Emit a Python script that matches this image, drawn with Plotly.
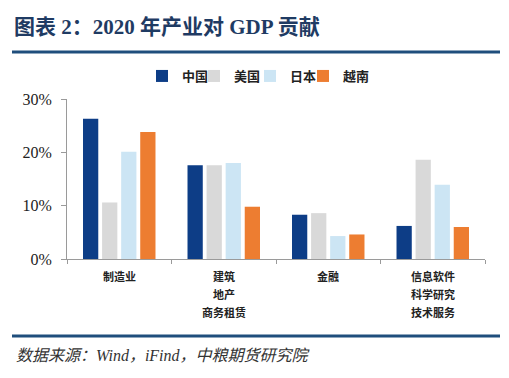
import plotly.graph_objects as go

categories = ["制造业", "建筑地产商务租赁", "金融", "信息软件科学研究技术服务"]
label_lines = [["制造业"], ["建筑", "地产", "商务租赁"], ["金融"], ["信息软件", "科学研究", "技术服务"]]
series_names = ["中国", "美国", "日本", "越南"]
china = [26.3, 17.6, 8.3, 6.2]
usa = [10.6, 17.6, 8.6, 18.6]
japan = [20.1, 18.0, 4.3, 13.9]
vietnam = [23.8, 9.8, 4.6, 6.0]
y_ticks = [0, 10, 20, 30]
y_tick_labels = ["0%", "10%", "20%", "30%"]

colors = ["#0d3d86", "#d9d9d9", "#cce5f4", "#ed7d31"]
values = [china, usa, japan, vietnam]

serif = "Liberation Serif, Noto Sans CJK SC, serif"

# page has an 8px body margin; work in screenshot coordinates and shift
OFF = 8
W, H = 509 - OFF, 378 - OFF
L, T = 67 - OFF, 99 - OFF
R, B = 509 - 485, 378 - 259
pw = W - L - R
ph = H - T - B


def px_x(x):
    return (x - OFF - L) / pw


def px_y(y):
    return (H - B - (y - OFF)) / ph


legend_keys = ["legend", "legend2", "legend3", "legend4"]
legend_x = [142, 194, 250, 303]

fig = go.Figure()
for name, vals, c, lk in zip(series_names, values, colors, legend_keys):
    fig.add_trace(go.Bar(x=categories, y=vals, name="<b>" + name + "</b>", legend=lk, showlegend=True,
                         marker=dict(color=c, line=dict(width=0))))

annotations = []
line_y = [276, 294, 312]
for cat, lines in zip(categories, label_lines):
    for i, t in enumerate(lines):
        annotations.append(dict(x=cat, xref="x", y=px_y(line_y[i]), yref="paper", text="<b>" + t + "</b>",
                                showarrow=False, xanchor="center", yanchor="middle",
                                font=dict(family=serif, size=11, color="#222")))
annotations.append(dict(x=px_x(14), xref="paper", y=px_y(355), yref="paper",
                        text="<i>数据来源：Wind，iFind，中粮期货研究院</i>", showarrow=False,
                        xanchor="left", yanchor="middle",
                        font=dict(family=serif, size=16, color="#333")))

shapes = [
    dict(type="line", xref="paper", yref="paper", x0=px_x(12), x1=px_x(500), y0=px_y(52), y1=px_y(52),
         line=dict(color="#1f4e7c", width=3)),
    dict(type="line", xref="paper", yref="paper", x0=px_x(12), x1=px_x(500), y0=px_y(336), y1=px_y(336),
         line=dict(color="#1f4e7c", width=3)),
]

layout_legends = {}
for lk, lx in zip(legend_keys, legend_x):
    layout_legends[lk] = dict(orientation="h", x=px_x(lx), y=px_y(76), xref="paper", yref="paper",
                              xanchor="left", yanchor="middle", visible=True,
                              font=dict(family=serif, size=13, color="#222"),
                              itemwidth=30, bgcolor="rgba(0,0,0,0)")

fig.update_layout(
    width=W, height=H,
    margin=dict(l=L, r=R, t=T, b=B),
    paper_bgcolor="white", plot_bgcolor="white",
    showlegend=True,
    barmode="group", bargap=0.27, bargroupgap=0.2,
    title=dict(text="<b>图表 2：2020 年产业对 GDP 贡献</b>", xref="container", yref="container",
               x=(14 - OFF) / W, y=1 - (27 - OFF) / H, xanchor="left", yanchor="middle",
               font=dict(family=serif, size=21, color="#1f3b63")),
    xaxis=dict(showline=True, linecolor="#9a9a9a", linewidth=1, ticks="outside", ticklen=4,
               tickcolor="#9a9a9a", tickson="boundaries", showticklabels=False, showgrid=False,
               zeroline=False),
    yaxis=dict(range=[0, 30], tickmode="array", tickvals=y_ticks, ticktext=y_tick_labels,
               showline=True, linecolor="#9a9a9a",
               linewidth=1, ticks="outside", ticklen=5, tickcolor="#9a9a9a", showgrid=False,
               zeroline=False, ticklabelstandoff=6,
               tickfont=dict(family=serif, size=16, color="#222")),
    annotations=annotations, shapes=shapes,
    **layout_legends,
)

fig.write_html("out.html")
